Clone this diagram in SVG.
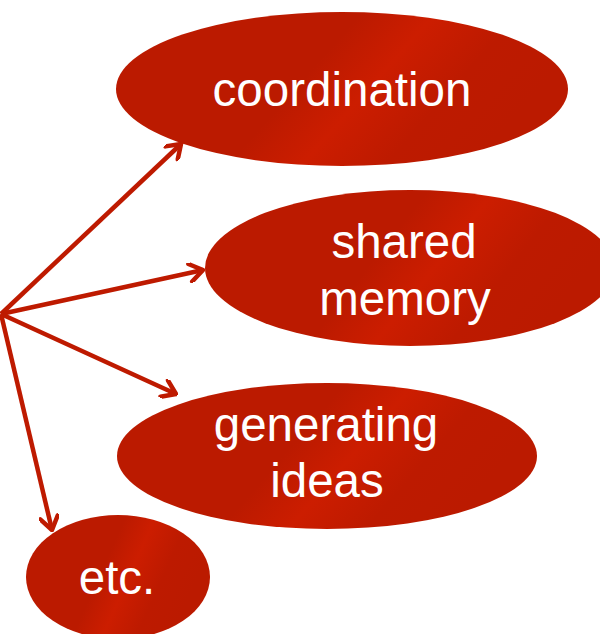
<svg xmlns="http://www.w3.org/2000/svg" width="600" height="634" viewBox="0 0 600 634">
<defs>
<linearGradient id="g" x1="0" y1="0" x2="1" y2="0.3">
<stop offset="0" stop-color="#BB1A00"/>
<stop offset="0.5" stop-color="#BB1A00"/>
<stop offset="0.65" stop-color="#CC1D00"/>
<stop offset="0.82" stop-color="#BD1A00"/>
<stop offset="1" stop-color="#BB1A00"/>
</linearGradient>
<marker id="ah" viewBox="-20 -10 22 20" refX="0" refY="0" markerWidth="22" markerHeight="20" markerUnits="userSpaceOnUse" orient="auto">
<path d="M-13,-9 L0,0 L-13,9" fill="none" stroke="#BE1A00" stroke-width="4.5" stroke-linecap="round" stroke-linejoin="round"/>
</marker>
<style>
.n{fill:url(#g)}
.t{fill:#fff;font-family:"Liberation Sans",Arial,sans-serif;font-size:47.5px;text-anchor:middle}
.c{stroke:#BE1A00;stroke-width:4.5;fill:none;marker-end:url(#ah)}
</style>
</defs>
<g id="connectors">
<line class="c" x1="1" y1="314" x2="181" y2="144"/>
<line class="c" x1="1" y1="314" x2="203" y2="270"/>
<line class="c" x1="1" y1="314" x2="176" y2="394"/>
<line class="c" x1="1" y1="314" x2="52" y2="530"/>
</g>
<g id="coordination">
<ellipse class="n" cx="342" cy="89" rx="226" ry="77"/>
<text class="t" x="342" y="106">coordination</text>
</g>
<g id="shared-memory">
<ellipse class="n" cx="410" cy="268" rx="205" ry="78"/>
<text class="t" x="404" y="258">shared</text>
<text class="t" x="405" y="315">memory</text>
</g>
<g id="generating-ideas">
<ellipse class="n" cx="327" cy="456" rx="210" ry="73"/>
<text class="t" x="326" y="441">generating</text>
<text class="t" x="327" y="497">ideas</text>
</g>
<g id="etc">
<ellipse class="n" cx="118" cy="577" rx="92" ry="62"/>
<text class="t" x="117" y="594">etc.</text>
</g>
</svg>
